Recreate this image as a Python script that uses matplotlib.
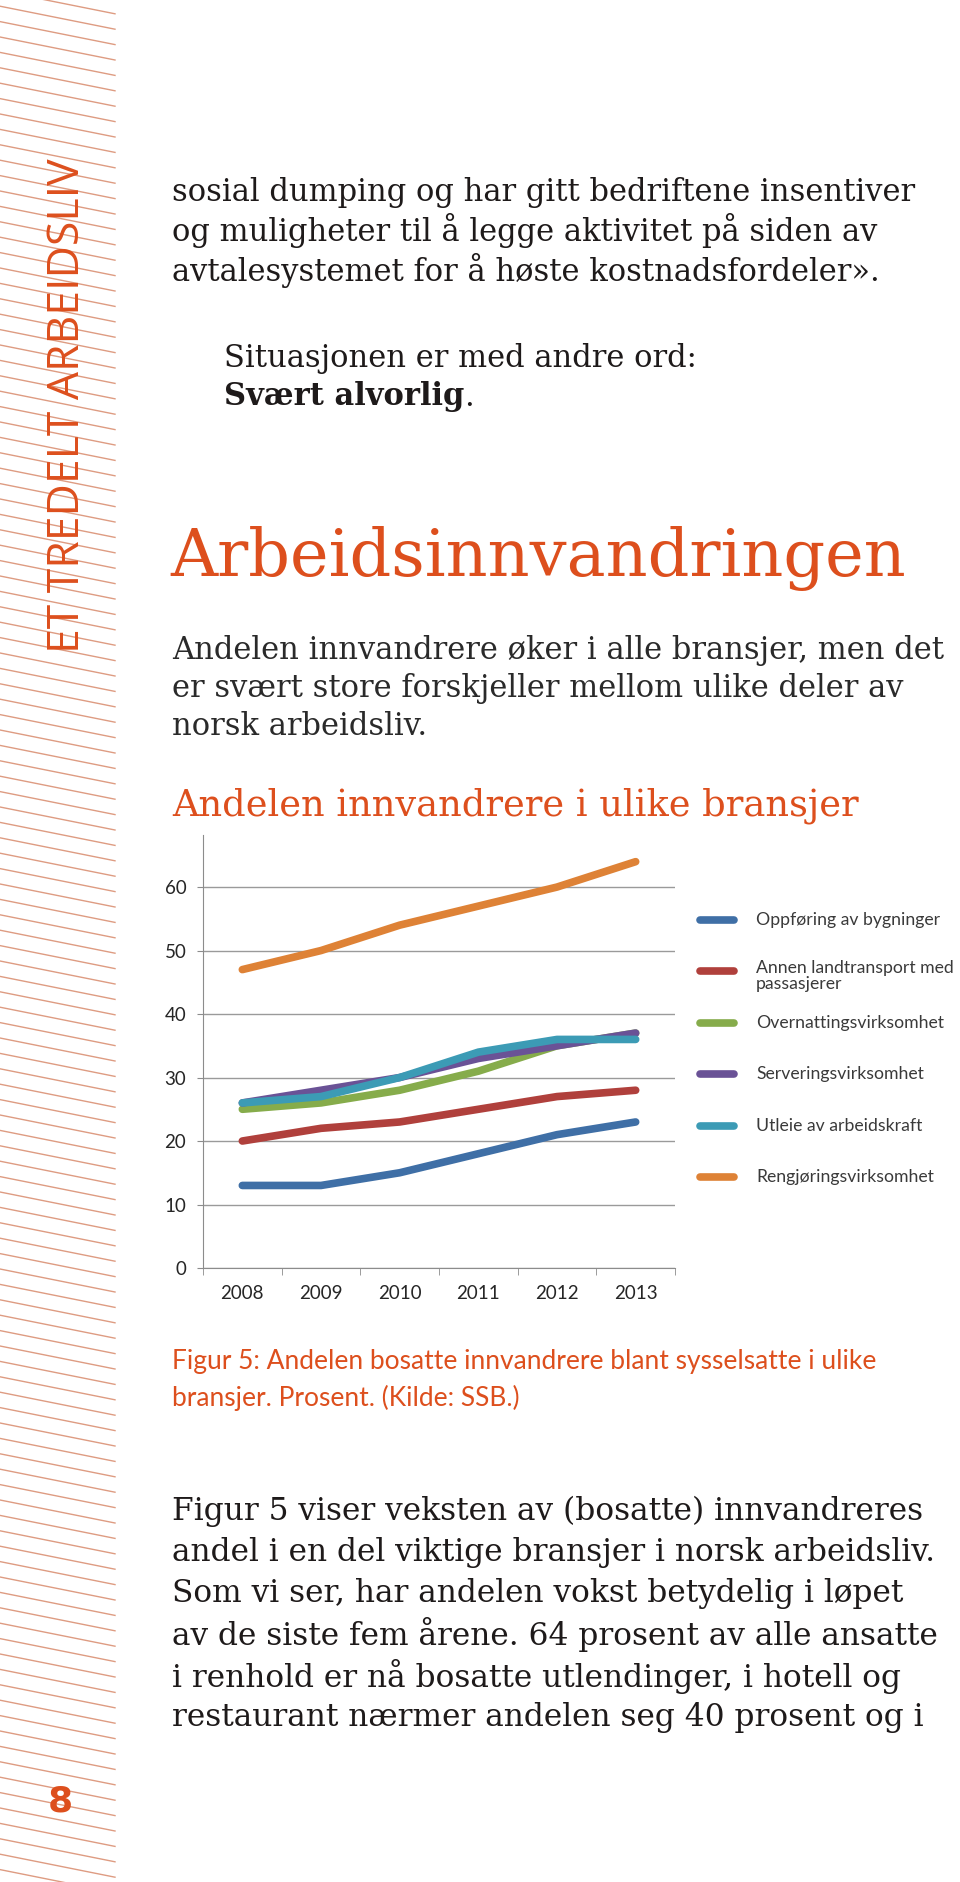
import matplotlib
matplotlib.use("Agg")
import matplotlib.pyplot as plt
from matplotlib.lines import Line2D

# data
years = ["2008", "2009", "2010", "2011", "2012", "2013"]
oppforing = [13, 13, 15, 18, 21, 23]
landtransport = [20, 22, 23, 25, 27, 28]
overnatting = [25, 26, 28, 31, 35, 37]
servering = [26, 28, 30, 33, 35, 37]
utleie = [26, 27, 30, 34, 36, 36]
rengjoring = [47, 50, 54, 57, 60, 64]

series_labels = ["Oppføring av bygninger", "Annen landtransport med\npassasjerer",
                 "Overnattingsvirksomhet", "Serveringsvirksomhet",
                 "Utleie av arbeidskraft", "Rengjøringsvirksomhet"]
series_colors = ["#3F6FA6", "#B0403C", "#86AC4B", "#6A5296", "#3C9BB5", "#DE8236"]
y_ticks = [0, 10, 20, 30, 40, 50, 60]

ORANGE = "#DD4F1D"
W, H = 960, 1882

fig = plt.figure(figsize=(9.6, 18.82), dpi=100)


def px(x, y):
    # pixel position (from top left) to figure fraction
    return x / W, 1 - y / H


# striped band on the left side
y0 = -40
while y0 < H + 40:
    fig.add_artist(Line2D([0, 115 / W], [1 - y0 / H, 1 - (y0 + 23) / H],
                          color="#DE9C82", lw=1.0, transform=fig.transFigure))
    y0 += 15.4

fig.text(*px(68, 406), "ET TREDELT ARBEIDSLIV", rotation=90, color=ORANGE,
         family="Open Sans", fontsize=32, ha="center", va="center")
fig.text(*px(60, 1802), "8", color=ORANGE, family="DejaVu Sans", fontsize=26,
         fontweight="bold", ha="center", va="center")

serif = "DejaVu Serif"
body = "#1E1A1A"

lines_top = ["sosial dumping og har gitt bedriftene insentiver",
             "og muligheter til å legge aktivitet på siden av",
             "avtalesystemet for å høste kostnadsfordeler»."]
for i, t in enumerate(lines_top):
    fig.text(*px(172, 192 + i * 39), t, family=serif, fontsize=22, color=body, va="center")
fig.text(*px(224, 358), "Situasjonen er med andre ord:", family=serif, fontsize=22,
         color=body, va="center")
t_bold = fig.text(*px(224, 397), "Svært alvorlig", family=serif, fontsize=22,
                  fontweight="bold", color=body, va="center")
fig.canvas.draw()
bb = t_bold.get_window_extent()
fig.text(bb.x1 / W, 1 - 397 / H, ".", family=serif, fontsize=22, color=body, va="center")

fig.text(*px(170, 559), "Arbeidsinnvandringen", family=serif, fontsize=47, color=ORANGE,
         va="center")

lines_mid = ["Andelen innvandrere øker i alle bransjer, men det",
             "er svært store forskjeller mellom ulike deler av",
             "norsk arbeidsliv."]
for i, t in enumerate(lines_mid):
    fig.text(*px(172, 650 + i * 38), t, family=serif, fontsize=22, color="#2A2A2A", va="center")

fig.text(*px(172, 806), "Andelen innvandrere i ulike bransjer", family=serif, fontsize=26.5,
         color=ORANGE, va="center")

# the chart
ax = fig.add_axes([203 / W, 1 - 1268 / H, 472 / W, 433 / H])
x = range(len(years))
for vals, col in zip([oppforing, landtransport, overnatting, servering, utleie, rengjoring],
                     series_colors):
    ax.plot(x, vals, color=col, lw=5.5, solid_capstyle="round", solid_joinstyle="round")
ax.set_xlim(-0.5, len(years) - 0.5)
ax.set_ylim(0, 68.2)
ax.set_yticks(y_ticks)
ax.set_xticks(x)
ax.set_xticklabels(years)
ax.set_xticks([i - 0.5 for i in range(len(years) + 1)], minor=True)
ax.tick_params(axis="x", which="major", length=0, pad=12)
ax.tick_params(axis="x", which="minor", length=5, color="#8C8C8C", direction="out")
ax.tick_params(axis="y", length=4, color="#8C8C8C", pad=8)
for lab in ax.get_xticklabels() + ax.get_yticklabels():
    lab.set_family("Lato")
    lab.set_fontsize(13.5)
    lab.set_color("#262626")
ax.grid(axis="y", color="#9A9A9A", lw=1)
ax.set_axisbelow(True)
for s in ["top", "right"]:
    ax.spines[s].set_visible(False)
for s in ["left", "bottom"]:
    ax.spines[s].set_color("#8C8C8C")
ax.set_facecolor("none")

# legend, one entry every ~51 px
for i, (lab, col) in enumerate(zip(series_labels, series_colors)):
    yy = 920 + i * 51.4
    fig.add_artist(Line2D([700 / W, 734 / W], [1 - yy / H] * 2, color=col, lw=5.5,
                          solid_capstyle="round", transform=fig.transFigure))
    if "\n" in lab:
        fig.text(*px(756, yy - 11), lab, family="Lato", fontsize=12.7, color="#3A3A3A",
                 va="top", linespacing=1.0)
    else:
        fig.text(*px(756, yy), lab, family="Lato", fontsize=12.7, color="#3A3A3A", va="center")

fig.text(*px(172, 1362), "Figur 5: Andelen bosatte innvandrere blant sysselsatte i ulike",
         family="Lato", fontsize=19, color=ORANGE, va="center")
fig.text(*px(172, 1398), "bransjer. Prosent. (Kilde: SSB.)", family="Lato", fontsize=19,
         color=ORANGE, va="center")

lines_bot = ["Figur 5 viser veksten av (bosatte) innvandreres",
             "andel i en del viktige bransjer i norsk arbeidsliv.",
             "Som vi ser, har andelen vokst betydelig i løpet",
             "av de siste fem årene. 64 prosent av alle ansatte",
             "i renhold er nå bosatte utlendinger, i hotell og",
             "restaurant nærmer andelen seg 40 prosent og i"]
for i, t in enumerate(lines_bot):
    fig.text(*px(172, 1511 + i * 41.3), t, family=serif, fontsize=22.5, color=body, va="center")

fig.savefig("out.png", dpi=100)
